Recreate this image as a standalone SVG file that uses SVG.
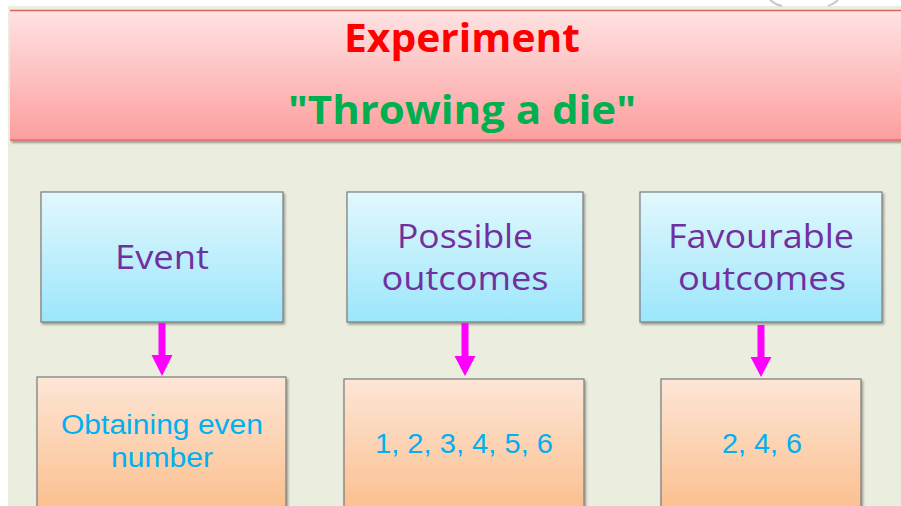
<svg xmlns="http://www.w3.org/2000/svg" width="901" height="506" viewBox="0 0 901 506">
<defs>
<linearGradient id="gHead" x1="0" y1="0" x2="0" y2="1"><stop offset="0" stop-color="#ffe3e3"/><stop offset="1" stop-color="#fd9e9e"/></linearGradient>
<linearGradient id="gBlue" x1="0" y1="0" x2="0" y2="1"><stop offset="0" stop-color="#e2f8fd"/><stop offset="1" stop-color="#9ce6fb"/></linearGradient>
<linearGradient id="gOrange" x1="0" y1="0" x2="0" y2="1"><stop offset="0" stop-color="#fde6d6"/><stop offset="1" stop-color="#fbbd8a"/></linearGradient>
<filter id="sh" x="-5%" y="-5%" width="115%" height="120%"><feDropShadow dx="1.5" dy="2" stdDeviation="1.2" flood-color="#000" flood-opacity="0.35"/></filter>
</defs>
<style>
.box{stroke:#7a7a7a;stroke-width:1.2;filter:url(#sh)}
.blue{fill:url(#gBlue)}
.orange{fill:url(#gOrange)}
.top{font-family:"Open Sans","Liberation Sans",sans-serif;font-size:33px;fill:#7030a0;text-anchor:middle}
.bot{font-family:"Liberation Sans",sans-serif;font-size:27px;fill:#00b0f0;text-anchor:middle}
.arrow{fill:#ff00ff}
</style>
<rect x="0" y="0" width="901" height="506" fill="#ffffff"/>
<rect x="8" y="6" width="893" height="500" fill="#ebeedf"/>
<path d="M770 0 Q776 5 782 6 M828 6 Q834 4 838 0" stroke="#c8c8c8" stroke-width="2" fill="none"/>
<g id="header">
<rect x="10" y="10" width="891" height="131" fill="url(#gHead)" filter="url(#sh)"/>
<line x1="10" y1="10.5" x2="901" y2="10.5" stroke="#e06060" stroke-width="1.5"/>
<line x1="10" y1="140" x2="901" y2="140" stroke="#d87070" stroke-width="1.5"/>
<text x="462" y="52" font-family="Open Sans,Liberation Sans,sans-serif" font-weight="bold" font-size="40" fill="#ff0000" text-anchor="middle" textLength="236" lengthAdjust="spacingAndGlyphs">Experiment</text>
<text x="462" y="124" font-family="Open Sans,Liberation Sans,sans-serif" font-weight="bold" font-size="40" fill="#00b050" text-anchor="middle" textLength="348" lengthAdjust="spacingAndGlyphs">"Throwing a die"</text>
</g>
<g id="event">
<rect class="box blue" x="41" y="192" width="242" height="130"/>
<text class="top" x="162" y="269" textLength="94" lengthAdjust="spacingAndGlyphs">Event</text>
</g>
<g id="possible">
<rect class="box blue" x="347" y="192" width="236" height="130"/>
<text class="top" x="465" y="248" textLength="136" lengthAdjust="spacingAndGlyphs">Possible</text>
<text class="top" x="465" y="290" textLength="167" lengthAdjust="spacingAndGlyphs">outcomes</text>
</g>
<g id="favourable">
<rect class="box blue" x="640" y="192" width="242" height="130"/>
<text class="top" x="761" y="248" textLength="186" lengthAdjust="spacingAndGlyphs">Favourable</text>
<text class="top" x="762" y="290" textLength="168" lengthAdjust="spacingAndGlyphs">outcomes</text>
</g>
<g id="obtaining">
<rect class="box orange" x="37" y="377" width="249" height="140"/>
<text class="bot" x="162" y="434" textLength="202" lengthAdjust="spacingAndGlyphs">Obtaining even</text>
<text class="bot" x="162" y="467" textLength="102" lengthAdjust="spacingAndGlyphs">number</text>
</g>
<g id="all">
<rect class="box orange" x="344" y="379" width="240" height="140"/>
<text class="bot" x="464" y="453" textLength="178" lengthAdjust="spacingAndGlyphs">1, 2, 3, 4, 5, 6</text>
</g>
<g id="even">
<rect class="box orange" x="661" y="379" width="200" height="140"/>
<text class="bot" x="762" y="453" textLength="80" lengthAdjust="spacingAndGlyphs">2, 4, 6</text>
</g>
<g id="connectors">
<path class="arrow" d="M158.5 323 H165.5 V355 H172.5 L162 376 L151.5 355 H158.5 Z"/>
<path class="arrow" d="M461.5 323 H468.5 V356 H475.5 L465 376 L454.5 356 H461.5 Z"/>
<path class="arrow" d="M757.5 325 H764.5 V357 H771.5 L761 377 L750.5 357 H757.5 Z"/>
</g>
</svg>
